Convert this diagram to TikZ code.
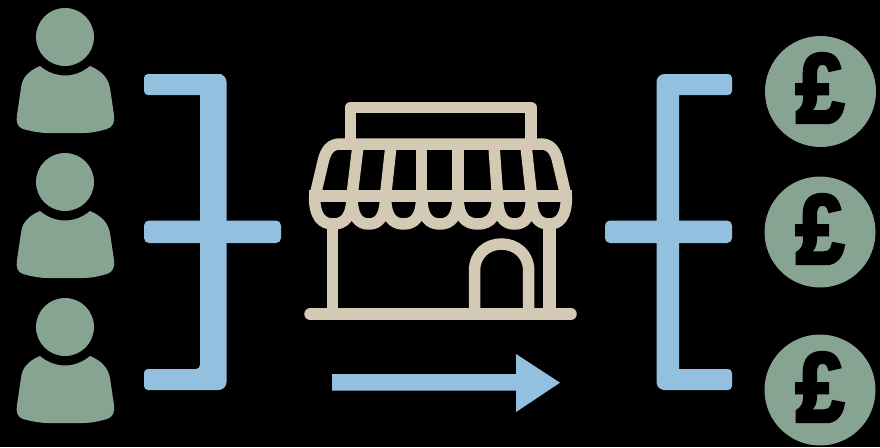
\documentclass[tikz,border=0pt]{standalone}
\usepackage{fontspec}
\setmainfont{Liberation Sans}
\newfontfamily\poundfont[UprightFont=* Bold,FakeBold=4]{Liberation Sans}
\definecolor{sage}{HTML}{87A492}
\definecolor{skyb}{HTML}{94C0E0}
\definecolor{sand}{HTML}{D3C9B4}
\tikzset{
  x=1pt,y=-1pt,
  bar/.style={fill=skyb,rounded corners=4pt},
  store/.style={draw=sand,line width=11.5pt,line join=round,line cap=butt},
  coin/.style={circle,fill=sage,minimum size=111pt,inner sep=0pt},
  pound/.style={text=black,inner sep=0pt,xscale=0.88,transform shape,font=\fontsize{98}{98}\selectfont\poundfont},
  person/.pic={
    \fill[sage] (65,37) circle[radius=29];
    \fill[sage] (40,66) .. controls (28,71) and (22,78) .. (21,88)
      -- (17,115) .. controls (16,122) and (17,127) .. (23,129)
      .. controls (30,131) and (40,133) .. (47,133) -- (83,133)
      .. controls (92,133) and (100,131) .. (107,129)
      .. controls (113,127) and (115,122) .. (114,115)
      -- (110,88) .. controls (108,78) and (102,71) .. (90,66)
      .. controls (83,72) and (74,75.5) .. (65,75.5)
      .. controls (56,75.5) and (47,72) .. (40,66) -- cycle;
  }
}
\begin{document}
\begin{tikzpicture}
\useasboundingbox (0,0) rectangle (880,447);
\fill[black] (0,0) rectangle (880,447);
% people
\pic at (0,0) {person};
\pic at (0,145) {person};
\pic at (0,290) {person};
% coins
\node[coin] (c1) at (820.5,91.5) {};
\node[coin] (c2) at (820,232) {};
\node[coin] (c3) at (820,390) {};
\node[pound] (p1) at (820,88) {£};
\node[pound] (p2) at (820,229) {£};
\node[pound] (p3) at (820,387) {£};
% left bracket
\fill[bar] (144,74) -- (218,74) [rounded corners=8pt] -- (226.5,74) -- (226.5,390) [rounded corners=4pt] -- (144,390) -- (144,369) -- (200,369) [sharp corners] -- (200,95) [rounded corners=4pt] -- (144,95) -- cycle;
\fill[bar,rounded corners=5pt] (144,220.5) rectangle (281,243);
% right bracket
\fill[bar] (732,74) [rounded corners=8pt] -- (656.5,74) -- (656.5,390) [rounded corners=4pt] -- (732,390) -- (732,369) [sharp corners] -- (679,369) -- (679,95) [rounded corners=4pt] -- (732,95) -- cycle;
\fill[bar,rounded corners=5pt] (605,220.5) rectangle (732,243);
% arrow
\fill[skyb] (332,374) -- (516,374) -- (516,354) -- (560,382.7) -- (516,412) -- (516,390.5) -- (332,390.5) -- cycle;
% store
\draw[store] (350.5,145) -- (350.5,107.5) -- (531,107.5) -- (531,145);
\draw[store] (315,196) -- (323.5,160) .. controls (326,150) and (331,144) .. (340,144)
  -- (541,144) .. controls (550,144) and (555,150) .. (557.5,160) -- (566,196);
\draw[store] (309,196) -- (572,196);
\draw[store] (358,146) -- (352,196);
\draw[store] (391,146) -- (385.5,196);
\draw[store] (421.7,146) -- (421.7,196);
\draw[store] (458,146) -- (458,196);
\draw[store] (494,146) -- (497.5,196);
\draw[store] (526,146) -- (531.5,196);
\foreach \a/\b in {314.5/352,352/385.5,385.5/421.7,421.7/458,458/497.5,497.5/531.5,531.5/566.5}{
  \draw[store] (\a,196) .. controls (\a,217) and ({\a+(\b-\a)*0.2},224) .. ({(\a+\b)/2},224)
    .. controls ({\b-(\b-\a)*0.2},224) and (\b,217) .. (\b,196);
}
\draw[store] (332.5,218) -- (332.5,314);
\draw[store,line width=13pt] (549,218) -- (549,314);
\draw[store] (474.5,314) -- (474.5,271) .. controls (474.5,254) and (487,244) .. (501.5,244)
  .. controls (516,244) and (528.7,254) .. (528.7,271) -- (528.7,314);
\draw[store,line cap=round] (310,314) -- (571,314);
\end{tikzpicture}
\end{document}
